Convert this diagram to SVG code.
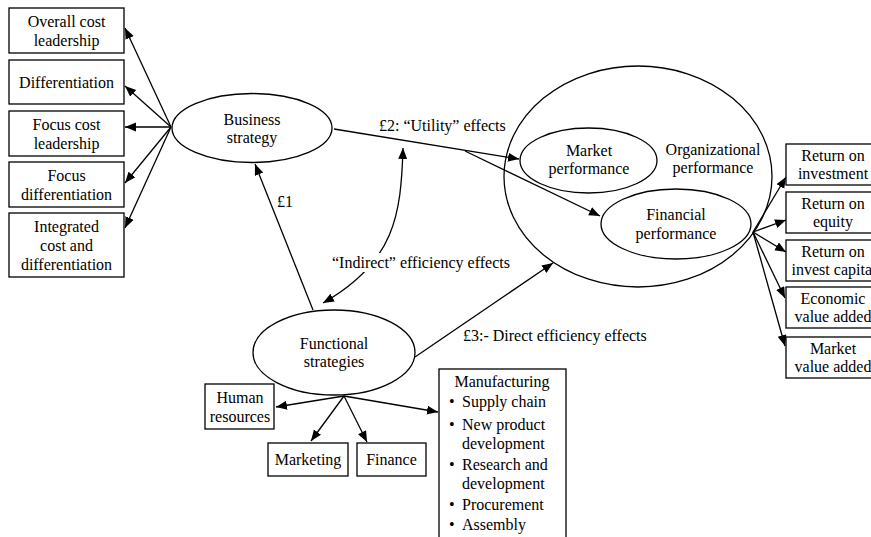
<svg xmlns="http://www.w3.org/2000/svg" width="871" height="537" viewBox="0 0 871 537" font-family="'Liberation Serif', 'DejaVu Serif', serif">
  <style>
    text { font-family: "Liberation Serif", "DejaVu Serif", serif; font-size: 16px; fill: #000; }
    .c { text-anchor: middle; }
    .box { fill: #fff; stroke: #000; stroke-width: 1.3; }
    .ell { fill: none; stroke: #000; stroke-width: 1.3; }
    .conn { fill: none; stroke: #000; stroke-width: 1.3; marker-end: url(#arrow); }
  </style>
  <defs>
    <marker id="arrow" markerUnits="userSpaceOnUse" markerWidth="12" markerHeight="10" refX="11" refY="4.5" orient="auto-start-reverse">
      <path d="M0,0 L11,4.5 L0,9 z" fill="#000"/>
    </marker>
  </defs>
  <rect width="871" height="537" fill="#fff"/>

  <!-- connectors -->
  <g id="connectors">
    <!-- business strategy to generic strategies -->
    <line class="conn" x1="171" y1="127" x2="125" y2="28"/>
    <line class="conn" x1="171" y1="127" x2="125" y2="86"/>
    <line class="conn" x1="171" y1="127" x2="125" y2="127"/>
    <line class="conn" x1="171" y1="127" x2="125" y2="183"/>
    <line class="conn" x1="171" y1="127" x2="125" y2="228"/>
    <!-- utility effects -->
    <line class="conn" x1="334" y1="129" x2="519" y2="159"/>
    <line class="conn" x1="465" y1="151" x2="600" y2="216"/>
    <!-- £1 -->
    <line class="conn" x1="313" y1="310" x2="255" y2="164"/>
    <!-- indirect efficiency effects (double-headed) -->
    <path class="conn" d="M403,148 C401,215 395,262 323,303" marker-start="url(#arrow)"/>
    <!-- £3 direct efficiency effects -->
    <line class="conn" x1="415" y1="357" x2="553" y2="263"/>
    <!-- financial performance to measures -->
    <line class="conn" x1="753" y1="232" x2="786" y2="177"/>
    <line class="conn" x1="753" y1="232" x2="786" y2="220"/>
    <line class="conn" x1="753" y1="232" x2="786" y2="252"/>
    <line class="conn" x1="753" y1="232" x2="785" y2="298"/>
    <line class="conn" x1="753" y1="232" x2="785" y2="346"/>
    <!-- functional strategies to functions -->
    <line class="conn" x1="344" y1="396" x2="276" y2="407"/>
    <line class="conn" x1="344" y1="396" x2="311" y2="441"/>
    <line class="conn" x1="344" y1="396" x2="367" y2="442"/>
    <line class="conn" x1="344" y1="396" x2="438" y2="412"/>
  </g>

  <!-- edge labels -->
  <g id="labels">
    <text x="379" y="131">£2: “Utility” effects</text>
    <text x="277" y="207">£1</text>
    <rect x="330" y="253" width="180" height="19" fill="#fff"/>
    <text x="332" y="268">“Indirect” efficiency effects</text>
    <text x="463" y="341">£3:- Direct efficiency effects</text>
  </g>

  <!-- generic strategies -->
  <g id="overall-cost-leadership">
    <rect class="box" x="9" y="8" width="115" height="45"/>
    <text class="c" x="66.5" y="27">Overall cost</text>
    <text class="c" x="66.5" y="46">leadership</text>
  </g>
  <g id="differentiation">
    <rect class="box" x="9" y="60" width="115" height="44"/>
    <text class="c" x="66.5" y="88">Differentiation</text>
  </g>
  <g id="focus-cost-leadership">
    <rect class="box" x="9" y="111" width="115" height="45"/>
    <text class="c" x="66.5" y="130">Focus cost</text>
    <text class="c" x="66.5" y="149">leadership</text>
  </g>
  <g id="focus-differentiation">
    <rect class="box" x="9" y="162" width="115" height="45"/>
    <text class="c" x="66.5" y="181">Focus</text>
    <text class="c" x="66.5" y="200">differentiation</text>
  </g>
  <g id="integrated">
    <rect class="box" x="9" y="213" width="115" height="64"/>
    <text class="c" x="66.5" y="232">Integrated</text>
    <text class="c" x="66.5" y="251">cost and</text>
    <text class="c" x="66.5" y="270">differentiation</text>
  </g>

  <!-- strategies -->
  <g id="business-strategy">
    <ellipse class="ell" cx="252" cy="128" rx="80" ry="34.5"/>
    <text class="c" x="252" y="125">Business</text>
    <text class="c" x="252" y="143">strategy</text>
  </g>
  <g id="functional-strategies">
    <ellipse class="ell" cx="334" cy="352.5" rx="81" ry="42.5"/>
    <text class="c" x="334" y="349">Functional</text>
    <text class="c" x="334" y="367">strategies</text>
  </g>

  <!-- performance -->
  <g id="organizational-performance">
    <ellipse class="ell" cx="638" cy="176.5" rx="134" ry="110.5"/>
    <text class="c" x="713" y="155">Organizational</text>
    <text class="c" x="713" y="173">performance</text>
  </g>
  <g id="market-performance">
    <ellipse class="ell" cx="588.5" cy="160.5" rx="68.5" ry="32.5"/>
    <text class="c" x="589" y="156">Market</text>
    <text class="c" x="589" y="174">performance</text>
  </g>
  <g id="financial-performance">
    <ellipse class="ell" cx="676" cy="224" rx="75" ry="35"/>
    <text class="c" x="676" y="220">Financial</text>
    <text class="c" x="676" y="239">performance</text>
  </g>

  <!-- financial measures -->
  <g id="return-on-investment">
    <rect class="box" x="786" y="144" width="95" height="41"/>
    <text class="c" x="833" y="161">Return on</text>
    <text class="c" x="833" y="179">investment</text>
  </g>
  <g id="return-on-equity">
    <rect class="box" x="786" y="192" width="95" height="41"/>
    <text class="c" x="833" y="209">Return on</text>
    <text class="c" x="833" y="227">equity</text>
  </g>
  <g id="return-on-invest-capital">
    <rect class="box" x="786" y="240" width="95" height="41"/>
    <text class="c" x="833" y="257">Return on</text>
    <text class="c" x="834" y="275">invest capital</text>
  </g>
  <g id="economic-value-added">
    <rect class="box" x="786" y="287" width="95" height="41"/>
    <text class="c" x="833" y="304">Economic</text>
    <text class="c" x="833" y="322">value added</text>
  </g>
  <g id="market-value-added">
    <rect class="box" x="786" y="337" width="95" height="41"/>
    <text class="c" x="833" y="354">Market</text>
    <text class="c" x="833" y="372">value added</text>
  </g>

  <!-- functions -->
  <g id="human-resources">
    <rect class="box" x="205" y="384" width="69" height="45"/>
    <text class="c" x="240" y="403">Human</text>
    <text class="c" x="240" y="422">resources</text>
  </g>
  <g id="marketing">
    <rect class="box" x="268" y="443" width="80" height="33"/>
    <text class="c" x="308" y="465">Marketing</text>
  </g>
  <g id="finance">
    <rect class="box" x="357" y="443" width="69" height="33"/>
    <text class="c" x="391.5" y="465">Finance</text>
  </g>
  <g id="manufacturing">
    <rect class="box" x="439" y="369" width="127" height="175"/>
    <text class="c" x="502" y="387">Manufacturing</text>
    <text x="449" y="407">•</text><text x="462" y="407">Supply chain</text>
    <text x="449" y="430">•</text><text x="462" y="430">New product</text>
    <text x="462" y="449">development</text>
    <text x="449" y="470">•</text><text x="462" y="470">Research and</text>
    <text x="462" y="489">development</text>
    <text x="449" y="510">•</text><text x="462" y="510">Procurement</text>
    <text x="449" y="530">•</text><text x="462" y="530">Assembly</text>
  </g>
</svg>
